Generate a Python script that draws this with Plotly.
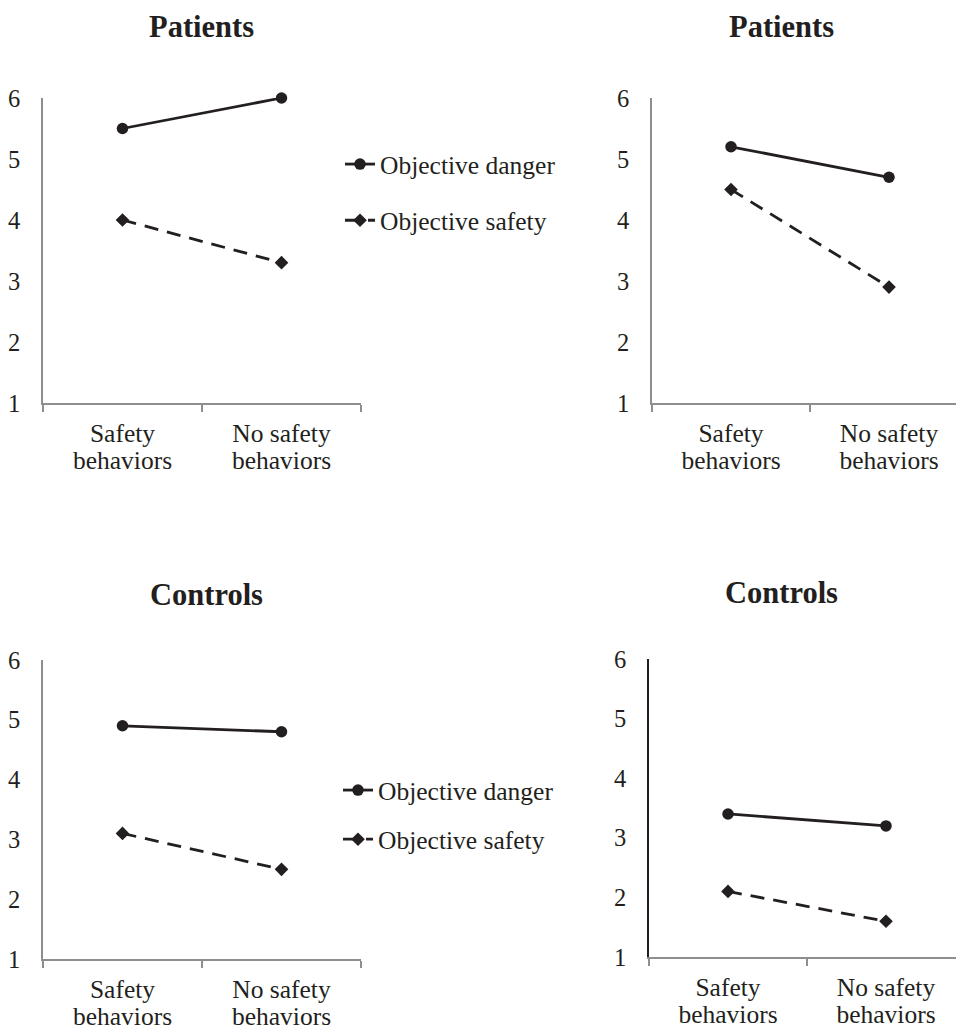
import plotly.graph_objects as go

# ---- data ----
conditions = ["Safety behaviors", "No safety behaviors"]
condition_line1 = ["Safety", "No safety"]
condition_line2 = ["behaviors", "behaviors"]
series_names = ["Objective danger", "Objective safety"]
panel_titles = ["Patients", "Patients", "Controls", "Controls"]

patients_a_danger = [5.5, 6.0]
patients_a_safety = [4.0, 3.3]
patients_b_danger = [5.2, 4.7]
patients_b_safety = [4.5, 2.9]
controls_a_danger = [4.9, 4.8]
controls_a_safety = [3.1, 2.5]
controls_b_danger = [3.4, 3.2]
controls_b_safety = [2.1, 1.6]

y_ticks = [1, 2, 3, 4, 5, 6]

W, H = 956, 1031
INK = "#231f20"
GRAY = "#8e8e8e"
FONT = "Liberation Serif, Tinos, Times New Roman, DejaVu Serif, serif"
CAT_SIZE = 25.5
LINE_GAP = 25

panels = [
    dict(danger=patients_a_danger, safety=patients_a_safety, x0=43, x1=361, y0=98, y1=403,
         legend="legend", ycolor=GRAY),
    dict(danger=patients_b_danger, safety=patients_b_safety, x0=652, x1=968, y0=98, y1=403,
         legend=None, ycolor=GRAY),
    dict(danger=controls_a_danger, safety=controls_a_safety, x0=43, x1=361, y0=660, y1=959,
         legend="legend2", ycolor=GRAY),
    dict(danger=controls_b_danger, safety=controls_b_safety, x0=649, x1=965, y0=659, y1=957,
         legend=None, ycolor=INK),
]

cat_index = list(range(len(conditions)))

fig = go.Figure()
layout = {}
for i, p in enumerate(panels):
    n = "" if i == 0 else str(i + 1)
    xa, ya = "x" + n, "y" + n
    xo = "x" + str(5 + i)
    show = p["legend"] is not None
    common = dict(x=conditions, xaxis=xa, yaxis=ya, mode="lines+markers",
                  showlegend=show, cliponaxis=False)
    if show:
        common["legend"] = p["legend"]
    fig.add_trace(go.Scatter(y=p["danger"], name=series_names[0], legendgroup=f"d{i}",
                             line=dict(color=INK, width=2.8),
                             marker=dict(symbol="circle", size=11.5, color=INK), **common))
    fig.add_trace(go.Scatter(y=p["safety"], name=series_names[1], legendgroup=f"s{i}",
                             line=dict(color=INK, width=2.8, dash="14px,9px"),
                             marker=dict(symbol="diamond", size=10.5, color=INK), **common))
    # invisible companion trace so the overlay axis (second label line) is drawn
    fig.add_trace(go.Scatter(x=cat_index, y=p["danger"], xaxis=xo, yaxis=ya, mode="markers",
                             marker=dict(opacity=0, size=1), showlegend=False,
                             hoverinfo="skip"))

    cat_w = (p["x1"] - p["x0"]) / 2.0
    dx1 = min(p["x1"], W)
    rmax = -0.5 + (dx1 - p["x0"]) / cat_w
    layout["xaxis" + n] = dict(
        domain=[p["x0"] / W, dx1 / W], anchor=ya, type="category",
        categoryorder="array", categoryarray=conditions,
        tickmode="array", tickvals=conditions, ticktext=condition_line1,
        range=[-0.5, rmax], showline=True, linecolor=GRAY, linewidth=1.6,
        ticks="outside", tickson="boundaries", ticklen=7, tickwidth=1.6, tickcolor=GRAY,
        showgrid=False, zeroline=False, automargin=False,
        tickfont=dict(family=FONT, size=CAT_SIZE, color=INK), ticklabelstandoff=7,
    )
    # second line of the category labels (tighter line spacing than <br>)
    layout["xaxis" + str(5 + i)] = dict(
        overlaying=xa, anchor=ya, side="bottom", type="linear",
        range=[-0.5, rmax], tickmode="array", tickvals=cat_index, ticktext=condition_line2,
        showline=False, ticks="", showgrid=False, zeroline=False, automargin=False,
        tickfont=dict(family=FONT, size=CAT_SIZE, color=INK),
        ticklabelstandoff=7 + 7 + LINE_GAP,
    )
    layout["yaxis" + n] = dict(
        domain=[1 - p["y1"] / H, 1 - p["y0"] / H], anchor=xa, range=[1, 6],
        tickmode="array", tickvals=y_ticks, ticktext=[str(v) for v in y_ticks],
        showline=True, linecolor=p["ycolor"], linewidth=1.6, ticks="",
        showgrid=False, zeroline=False, automargin=False,
        tickfont=dict(family=FONT, size=24.5, color=INK), ticklabelstandoff=16,
    )

title_pos = [(201, 27), (781, 27), (206, 595), (781, 593)]
annotations = []
for t, (tx, ty) in zip(panel_titles, title_pos):
    annotations.append(dict(text=f"<b>{t}</b>", x=tx / W, y=1 - ty / H, xref="paper", yref="paper",
                            xanchor="center", yanchor="middle", showarrow=False,
                            font=dict(family=FONT, size=30.5, color=INK)))

fig.update_layout(
    template="none",
    width=W, height=H, margin=dict(l=0, r=0, t=0, b=0, pad=0), autosize=False,
    paper_bgcolor="white", plot_bgcolor="white",
    font=dict(family=FONT, color=INK),
    annotations=annotations, hovermode=False,
    legend=dict(x=340 / W, y=1 - 141 / H, xanchor="left", yanchor="top",
                traceorder="grouped", tracegroupgap=20, bgcolor="rgba(0,0,0,0)",
                font=dict(family=FONT, size=25.5, color=INK)),
    legend2=dict(x=338 / W, y=1 - 767 / H, xanchor="left", yanchor="top",
                 traceorder="grouped", tracegroupgap=13, bgcolor="rgba(0,0,0,0)",
                 font=dict(family=FONT, size=25.5, color=INK)),
    **layout,
)

fig.write_html("out.html", config={"displayModeBar": False},
               post_script="document.body.style.margin='0px';")
